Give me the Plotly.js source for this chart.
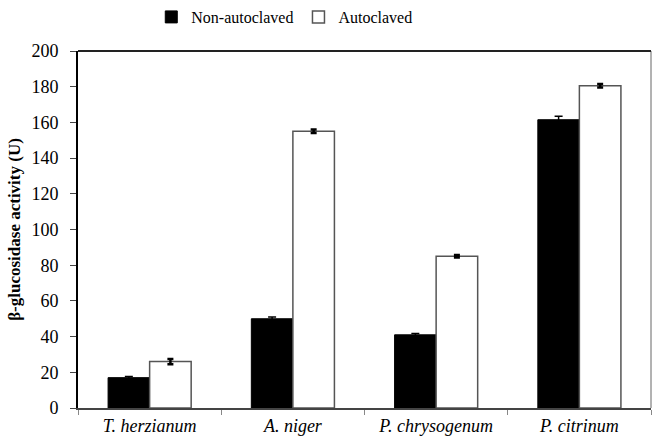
<!DOCTYPE html>
<html>
<head>
<meta charset="utf-8">
<script src="https://cdn.plot.ly/plotly-3.0.1.min.js"></script>
<style>html,body{margin:0;padding:0;background:#fff;}#chart{width:652px;height:441px;}</style>
</head>
<body>
<div id="chart"></div>
<script>
var categories = ["<i>T. herzianum</i>", "<i>A. niger</i>", "<i>P. chrysogenum</i>", "<i>P. citrinum</i>"];
var nonAutoclaved = [17, 50, 41, 161.5];
var nonAutoclavedErr = [0.6, 1, 0.7, 2];
var autoclaved = [26, 155, 85, 180.5];
var autoclavedErr = [1.5, 1, 0.7, 1];
var yTicks = [0, 20, 40, 60, 80, 100, 120, 140, 160, 180, 200];

var serif = "Liberation Serif";

var data = [
  {
    type: "bar", name: "Non-autoclaved", x: categories, y: nonAutoclaved,
    marker: {color: "#000000", line: {color: "#000000", width: 1}},
    error_y: {type: "data", array: nonAutoclavedErr, visible: true, color: "#000", thickness: 1.5, width: 4}
  },
  {
    type: "bar", name: "Autoclaved", x: categories, y: autoclaved,
    marker: {color: "#ffffff", line: {color: "#555555", width: 1.5}},
    error_y: {type: "data", array: autoclavedErr, visible: true, color: "#000", thickness: 2.5, width: 3}
  }
];

var layout = {
  width: 652, height: 441,
  margin: {l: 78, r: 1, t: 51, b: 33},
  paper_bgcolor: "#fff", plot_bgcolor: "#fff",
  font: {family: serif, color: "#000", size: 18},
  barmode: "group", bargap: 0.42, bargroupgap: 0,
  showlegend: true,
  legend: {orientation: "h", x: 0.36, xanchor: "center", y: 1.0, yanchor: "top",
           yref: "container", font: {family: serif, size: 16, color: "#000"}, itemwidth: 30, traceorder: "normal",
           bgcolor: "rgba(0,0,0,0)"},
  xaxis: {
    type: "category", showline: true, linecolor: "#444", linewidth: 2,
    ticks: "outside", tickson: "boundaries", ticklen: 5, tickcolor: "#888", tickwidth: 1,
    showgrid: false, zeroline: false, tickfont: {family: serif, size: 18, color: "#000"}
  },
  yaxis: {
    range: [0, 200], tickvals: yTicks, showline: true, linecolor: "#000", linewidth: 2,
    ticks: "outside", ticklen: 6, tickcolor: "#444", tickwidth: 1, ticklabelstandoff: 8,
    showgrid: false, zeroline: false, tickfont: {family: serif, size: 18, color: "#000"},
    title: {text: "<b>β-glucosidase activity (U)</b>", font: {family: serif, size: 17, color: "#000"}, standoff: 6}
  },
  shapes: [
    {type: "line", xref: "paper", yref: "paper", x0: 1, x1: 1, y0: 0, y1: 1, line: {color: "#666", width: 1}},
    {type: "line", xref: "paper", yref: "paper", x0: 0, x1: 1, y0: 1, y1: 1, line: {color: "#222", width: 2}}
  ]
};

Plotly.newPlot("chart", data, layout, {displayModeBar: false, staticPlot: true});
</script>
</body>
</html>
